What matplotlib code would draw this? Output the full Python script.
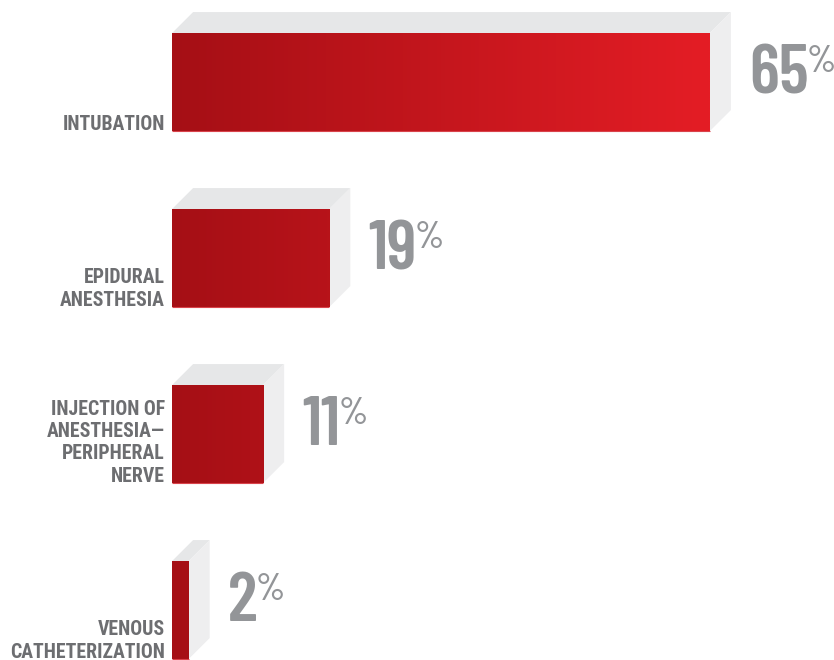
import matplotlib.pyplot as plt
import numpy as np
from matplotlib.colors import LinearSegmentedColormap
from matplotlib.patches import Polygon

labels = ['INTUBATION', 'EPIDURAL\nANESTHESIA',
          'INJECTION OF\nANESTHESIA\u2014\nPERIPHERAL\nNERVE',
          'VENOUS\nCATHETERIZATION']
values = [65, 19, 11, 2]

FONT = ['Roboto Condensed', 'DejaVu Sans']
NUM_FONT = ['Barlow Condensed', 'Roboto Condensed', 'DejaVu Sans']
LABEL_COLOR = '#6d6e71'
NUM_COLOR = '#939598'

fig = plt.figure(figsize=(8.34, 6.6), dpi=100)
ax = fig.add_axes([0, 0, 1, 1])
ax.axis('off')

bar_h = 0.557
dx, dy = 2.54, 0.119   # depth of the 3d box, data units
cmap = LinearSegmentedColormap.from_list('reds', ['#a50f15', '#e41d25'])
grad = np.linspace(0, 1, 256).reshape(1, -1)

y = np.arange(len(values))
bars = ax.barh(y, values, height=bar_h, color='#b0131a', zorder=2)

for yi, v, lab, bar in zip(y, values, labels, bars):
    top = yi - bar_h / 2
    bot = yi + bar_h / 2
    # top and right faces of the box
    ax.add_patch(Polygon([(0, top), (dx, top - dy), (v + dx, top - dy), (v, top)],
                         closed=True, fc='#e6e7e8', ec='none', zorder=1))
    ax.add_patch(Polygon([(v, top), (v + dx, top - dy), (v + dx, bot - dy), (v, bot)],
                         closed=True, fc='#eeeeef', ec='none', zorder=1))
    # gradient across the full scale, clipped to the bar
    im = ax.imshow(grad, extent=(0, max(values), bot, top), cmap=cmap,
                   aspect='auto', zorder=3)
    im.set_clip_path(bar)
    ax.plot([0, v], [bot, bot], color='#d9434b', lw=0.8, zorder=4,
            solid_capstyle='butt')

    ax.text(-0.85, bot + 0.015, lab, ha='right', va='bottom', multialignment='right',
            family=FONT, weight='bold', fontsize=14.2, color=LABEL_COLOR,
            linespacing=1.22)

    num = ax.text(v + dx + 2.2, top + 0.341, str(v), ha='left', va='baseline',
                  family=NUM_FONT, weight='semibold', fontsize=50, color=NUM_COLOR)
    ax.annotate('%', xy=(1, 1), xycoords=num, xytext=(-1.5, -1),
                textcoords='offset points', ha='left', va='top',
                family=NUM_FONT, weight='medium', fontsize=27, color=NUM_COLOR)

ax.set_xlim(-20.8, 80.0)
ax.set_ylim(3.284, -0.466)

fig.savefig('out.png', dpi=100, facecolor='white')
